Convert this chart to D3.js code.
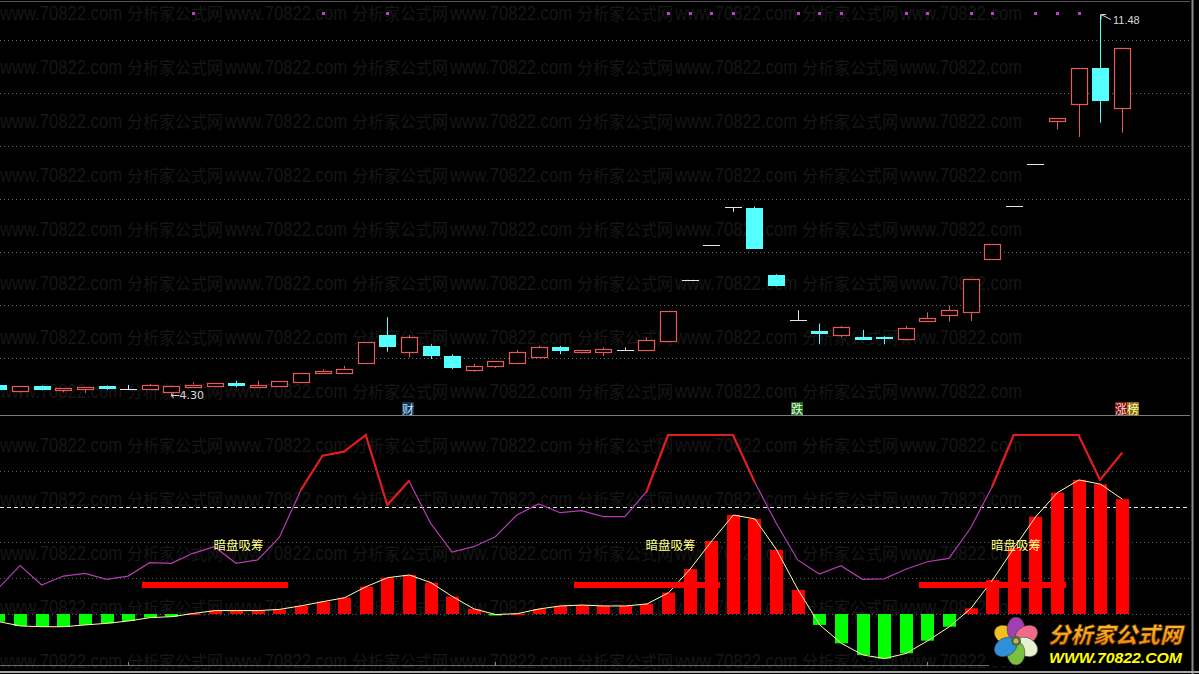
<!DOCTYPE html>
<html><head><meta charset="utf-8">
<script src="https://cdn.jsdelivr.net/npm/d3@7/dist/d3.min.js"></script>
<style>html,body{margin:0;padding:0;background:#000;overflow:hidden}</style>
</head><body><svg id="c" width="1199" height="674" xmlns="http://www.w3.org/2000/svg"></svg>
<script>
// ---------------- DATA ----------------
const opens  = [4.49,4.38,4.47,4.39,4.45,4.47,4.42,4.41,4.36,4.46,4.48,4.53,4.47,4.48,4.55,4.71,4.72,4.90,5.43,5.11,5.23,5.04,4.77,4.84,4.90,5.02,5.20,5.11,5.12,5.16,5.15,5.33,6.48,7.13,7.84,7.83,6.57,5.72,5.50,5.43,5.39,5.40,5.36,5.70,5.81,5.87,6.87,7.87,8.66,9.47,9.79,10.48,9.71];
const highs  = [4.50,4.47,4.48,4.43,4.46,4.48,4.49,4.51,4.47,4.54,4.53,4.57,4.57,4.57,4.71,4.79,4.85,5.30,5.77,5.43,5.26,5.07,4.89,4.94,5.15,5.23,5.23,5.15,5.20,5.20,5.38,5.89,6.48,7.13,7.84,7.86,6.58,5.90,5.65,5.60,5.53,5.41,5.61,5.86,5.99,6.50,7.15,7.87,8.66,9.53,10.48,11.48,10.84];
const lows   = [4.39,4.35,4.39,4.35,4.34,4.40,4.40,4.41,4.30,4.46,4.48,4.45,4.47,4.48,4.55,4.71,4.72,4.90,5.12,5.01,4.98,4.79,4.74,4.81,4.90,5.02,5.07,5.09,5.04,5.13,5.13,5.29,6.48,7.13,7.76,7.06,6.35,5.72,5.26,5.39,5.34,5.26,5.33,5.69,5.69,5.70,6.85,7.87,8.66,9.31,9.17,9.44,9.25];
const closes = [4.40,4.47,4.40,4.43,4.46,4.41,4.42,4.49,4.47,4.50,4.53,4.47,4.49,4.57,4.71,4.76,4.80,5.30,5.20,5.39,5.04,4.82,4.85,4.94,5.11,5.20,5.13,5.15,5.17,5.16,5.34,5.89,6.48,7.13,7.84,7.06,6.35,5.72,5.45,5.58,5.34,5.36,5.56,5.75,5.90,6.50,7.15,7.87,8.66,9.53,10.48,9.85,10.84];

const oscValues  = [14.5,27.0,16.2,21.2,22.7,19.4,21.2,28.7,28.3,33.9,37.6,28.3,30.2,42.8,69.3,88.4,90.7,100,60.9,74.3,50.8,34.6,37.6,43.2,55.3,61.5,56.6,57.7,54.4,54.4,68.3,100,100,100,100,73.9,50.8,30.2,22.3,27.0,19.4,19.6,25.0,29.2,31.1,47.9,71.1,100,100,100,100,74.9,89.8];
const histValues = [-4.3,-6.7,-7.1,-7.1,-6.1,-5.2,-3.9,-2.0,-1.5,0.3,1.9,1.9,1.9,2.6,4.6,6.9,9.1,15.3,20.3,21.8,17.5,9.7,2.8,-0.3,0.2,2.8,4.5,5.0,4.5,4.5,5.6,11.9,25.1,40.8,55.3,53.1,35.8,13.4,-6.1,-16.4,-22.9,-24.9,-22.0,-14.9,-7.1,3.2,19.0,37.0,54.4,67.8,74.9,72.5,64.2];

const dotIdx = [9,15,18,31,32,33,34,37,38,39,42,43,45,46,48,49,50];
const accumStart = [7,27,43];
const accumEnd   = [13,33,49];
const accumLabelIdx = [10,30,46];
const accumLevel = 16.2;
const accumLabelLevel = 39;
const accumText = "暗盘吸筹";
const oscRedThreshold = 60;

const eventIdx  = [19,37,52];
const eventText = ["财","跌","涨榜"];

const priceTicks = [5,6,7,8,9,10,11];
const oscDotTicks = [0,20,40,80];
const oscDashTick = 60;

const wmLatin = "www.70822.com";
const wmCJK = "分析家公式网";
const logoTitle = "分析家公式网";
const logoUrl = "WWW.70822.COM";
const axisTickIdx = [6,23,43];

// ---------------- SCALES ----------------
const W = 1199, H = 674;
const svg = d3.select("#c");
const N = closes.length;
const x = d3.scaleLinear().domain([-0.5, 52.5]).range([-12.3, 1132.5]);
const yP = d3.scaleLinear().domain([5, 11]).range([358, 40]);
const yI = d3.scaleLinear().domain([0, 100]).range([614, 435]);
const plotRight = 1190;

svg.append("rect").attr("width", W).attr("height", H).attr("fill", "#000");

// ---------------- WATERMARK ----------------
const wm = svg.append("g").attr("fill", "#171717");
for (let r = 0; r < 13; r++) {
  const cy = 13 + 54 * r;
  for (let k = 0; k < 5; k++) {
    wm.append("text").attr("x", k * 225).attr("y", cy + 7)
      .attr("font-family", "Liberation Sans, Arial, sans-serif").attr("font-size", 20)
      .attr("textLength", 122).attr("lengthAdjust", "spacingAndGlyphs").text(wmLatin);
    if (k < 4) wm.append("text").attr("x", k * 225 + 127).attr("y", cy + 7)
      .attr("font-family", "Noto Sans CJK SC, sans-serif").attr("font-size", 17)
      .attr("textLength", 96).attr("lengthAdjust", "spacingAndGlyphs").text(wmCJK);
  }
}

// ---------------- FRAME ----------------
svg.append("line").attr("x1", 0).attr("x2", plotRight).attr("y1", 1.5).attr("y2", 1.5).attr("stroke", "#555");
svg.append("line").attr("x1", 0).attr("x2", plotRight).attr("y1", 415.5).attr("y2", 415.5).attr("stroke", "#7a7a7a");
svg.append("line").attr("x1", 0).attr("x2", plotRight).attr("y1", 665.5).attr("y2", 665.5).attr("stroke", "#6a6a6a");
svg.append("line").attr("x1", plotRight + 2.5).attr("x2", plotRight + 2.5).attr("y1", 0).attr("y2", H).attr("stroke", "#888").attr("stroke-width", 2);
svg.append("line").attr("x1", 0).attr("x2", W).attr("y1", 672).attr("y2", 672).attr("stroke", "#aaa").attr("stroke-width", 2);
svg.selectAll(".atick").data(axisTickIdx).enter().append("line")
  .attr("x1", d => Math.round(x(d)) + 0.5).attr("x2", d => Math.round(x(d)) + 0.5)
  .attr("y1", 662).attr("y2", 666).attr("stroke", "#888");

// ---------------- PRICE GRID ----------------
svg.selectAll(".pg").data(priceTicks).enter().append("line")
  .attr("x1", 0).attr("x2", plotRight)
  .attr("y1", d => Math.round(yP(d)) + 0.5).attr("y2", d => Math.round(yP(d)) + 0.5)
  .attr("stroke", "#6a6a6a").attr("stroke-dasharray", "1,3");

// ---------------- CANDLES ----------------
const UP = "#e85a5a", DOWN = "#54ffff", FLAT = "#e6e6e6";
const cg = svg.append("g");
d3.range(N).forEach(i => {
  const o = opens[i], c = closes[i], h = highs[i], l = lows[i];
  const cx = Math.round(x(i)) + 0.5;
  const left = Math.round(x(i)) - 8;
  const bodyTop = yP(Math.max(o, c)), bodyBot = yP(Math.min(o, c));
  if (o === c) {
    cg.append("line").attr("x1", cx).attr("x2", cx).attr("y1", yP(h)).attr("y2", yP(l)).attr("stroke", FLAT);
    const yy = Math.round(yP(c)) + 0.5;
    cg.append("line").attr("x1", left).attr("x2", left + 17).attr("y1", yy).attr("y2", yy).attr("stroke", FLAT);
  } else if (c > o) {
    cg.append("line").attr("x1", cx).attr("x2", cx).attr("y1", yP(h)).attr("y2", bodyTop).attr("stroke", UP);
    cg.append("line").attr("x1", cx).attr("x2", cx).attr("y1", bodyBot).attr("y2", yP(l)).attr("stroke", UP);
    const t = Math.round(bodyTop) + 0.5, b = Math.max(Math.round(bodyBot) + 0.5, t + 2);
    cg.append("rect").attr("x", left + 0.5).attr("y", t).attr("width", 16).attr("height", b - t)
      .attr("fill", "#000").attr("stroke", UP).attr("stroke-width", 1.2);
  } else {
    cg.append("line").attr("x1", cx).attr("x2", cx).attr("y1", yP(h)).attr("y2", yP(l)).attr("stroke", DOWN);
    const t = Math.round(bodyTop), b = Math.max(Math.round(bodyBot), t + 2);
    cg.append("rect").attr("x", left).attr("y", t).attr("width", 17).attr("height", b - t).attr("fill", DOWN);
  }
});

// high / low markers
const hi = d3.maxIndex(highs), lo = d3.minIndex(lows);
{
  const hx = Math.round(x(hi)) + 1, hy = yP(highs[hi]);
  svg.append("path").attr("d", `M${hx + 10},${hy + 5} L${hx},${hy} M${hx},${hy} h5 M${hx},${hy} v5`)
    .attr("stroke", "#d8d8d8").attr("fill", "none");
  svg.append("text").attr("x", hx + 12).attr("y", hy + 5).attr("dominant-baseline", "central")
    .attr("font-family", "Liberation Sans, Arial, sans-serif").attr("font-size", 11).attr("fill", "#d8d8d8")
    .text(highs[hi].toFixed(2));
  const lx = x(lo), ly = yP(lows[lo]);
  svg.append("text").attr("x", lx - 1).attr("y", ly).attr("dominant-baseline", "central")
    .attr("font-family", "DejaVu Sans, sans-serif").attr("font-size", 11).attr("fill", "#d8d8d8")
    .text("←" + lows[lo].toFixed(2));
}

// purple signal dots
svg.selectAll(".dot").data(dotIdx).enter().append("rect")
  .attr("x", d => Math.round(x(d)) - 1).attr("y", 12).attr("width", 3).attr("height", 3).attr("fill", "#c03cd0");

// event labels
const evColors = [[{bg:"#0f2f4f", fg:"#bfe4ff"}], [{bg:"#1c6e1c", fg:"#e8ffe8"}], [{bg:"#7a1212", fg:"#ffd8d8"}, {bg:"#8a6a1a", fg:"#ffffa0"}]];
eventIdx.forEach((ei, k) => {
  const chars = Array.from(eventText[k]);
  const x0 = Math.round(x(ei)) - 7;
  chars.forEach((ch, j) => {
    const col = evColors[k][Math.min(j, evColors[k].length - 1)];
    svg.append("rect").attr("x", x0 + j * 12).attr("y", 402).attr("width", 12).attr("height", 13).attr("fill", col.bg);
    svg.append("text").attr("x", x0 + j * 12 + 6).attr("y", 408.5).attr("text-anchor", "middle")
      .attr("dominant-baseline", "central").attr("font-family", "Noto Sans CJK SC, sans-serif")
      .attr("font-size", 12).attr("fill", col.fg).text(ch);
  });
});

// ---------------- INDICATOR ----------------
svg.selectAll(".og").data(oscDotTicks).enter().append("line")
  .attr("x1", 0).attr("x2", plotRight)
  .attr("y1", d => Math.round(yI(d)) + 0.5).attr("y2", d => Math.round(yI(d)) + 0.5)
  .attr("stroke", "#5a5a5a").attr("stroke-dasharray", "1,3");
svg.append("line").attr("x1", 0).attr("x2", plotRight)
  .attr("y1", Math.round(yI(oscDashTick)) + 0.5).attr("y2", Math.round(yI(oscDashTick)) + 0.5)
  .attr("stroke", "#e8e8e8").attr("stroke-dasharray", "4,3");

// histogram
svg.selectAll(".hb").data(histValues).enter().append("rect")
  .attr("x", (d, i) => Math.round(x(i)) - 6).attr("width", 13)
  .attr("y", d => Math.min(yI(d), yI(0)))
  .attr("height", d => Math.max(1.5, Math.abs(yI(d) - yI(0))))
  .attr("fill", d => d >= 0 ? "#ff0000" : "#00ff00");
svg.append("path").datum(histValues)
  .attr("d", d3.line().x((d, i) => x(i) + 0.5).y(d => yI(d)))
  .attr("fill", "none").attr("stroke", "#ffffb0").attr("stroke-width", 1);

// accumulation bars
accumStart.forEach((s, k) => {
  const e = accumEnd[k];
  const x0 = Math.round(x(s)) - 8, x1 = Math.round(x(e)) + 9;
  svg.append("rect").attr("x", x0).attr("width", x1 - x0)
    .attr("y", yI(accumLevel) - 3).attr("height", 6).attr("fill", "#ff0000");
});

// oscillator line
svg.append("path").datum(oscValues)
  .attr("d", d3.line().x((d, i) => x(i)).y(d => yI(d)))
  .attr("fill", "none").attr("stroke", "#b43cb4").attr("stroke-width", 1.2);
for (let i = 1; i < N; i++) {
  if (oscValues[i - 1] > oscRedThreshold && oscValues[i] > oscRedThreshold) {
    svg.append("line").attr("x1", x(i - 1)).attr("y1", yI(oscValues[i - 1]))
      .attr("x2", x(i)).attr("y2", yI(oscValues[i]))
      .attr("stroke", "#e01c1c").attr("stroke-width", 2.2).attr("stroke-linecap", "round");
  }
}

// labels
accumLabelIdx.forEach(li => {
  svg.append("text").attr("x", x(li) - 1).attr("y", yI(accumLabelLevel))
    .attr("dominant-baseline", "central").attr("font-family", "Noto Sans CJK SC, sans-serif")
    .attr("font-size", 12.5).attr("fill", "#ffff88").text(accumText);
});

// ---------------- LOGO ----------------
const lg = svg.append("g");
lg.append("rect").attr("x", 989).attr("y", 615).attr("width", 202).attr("height", 51).attr("fill", "#000");
const defs = svg.append("defs");
const grad = defs.append("linearGradient").attr("id", "lgrad").attr("x1", 0).attr("x2", 0).attr("y1", 0).attr("y2", 1);
grad.append("stop").attr("offset", "0%").attr("stop-color", "#ffd23a");
grad.append("stop").attr("offset", "100%").attr("stop-color", "#f07a00");
const petals = ["#f4c020", "#a040b0", "#f06a8a", "#e8f0d0", "#7cc040", "#2f8fd8"];
const fcx = 1016, fcy = 641;
petals.forEach((col, k) => {
  const a = -60 + k * 60;
  lg.append("ellipse").attr("cx", 0).attr("cy", -12).attr("rx", 9).attr("ry", 12)
    .attr("fill", col).attr("stroke", "#333").attr("stroke-width", 0.5)
    .attr("transform", `translate(${fcx},${fcy}) rotate(${a})`);
});
lg.append("circle").attr("cx", fcx).attr("cy", fcy).attr("r", 5).attr("fill", "#4a6a3a");
lg.append("circle").attr("cx", fcx).attr("cy", fcy).attr("r", 2.5).attr("fill", "#c8b060");
lg.append("text").attr("x", 1048).attr("y", 643).attr("font-family", "Noto Sans CJK SC, sans-serif")
  .attr("font-weight", 900).attr("font-size", 22).attr("font-style", "italic")
  .attr("textLength", 134).attr("lengthAdjust", "spacingAndGlyphs")
  .attr("fill", "url(#lgrad)").attr("stroke", "#5a2a00").attr("stroke-width", 0.6).text(logoTitle);
lg.append("text").attr("x", 1049).attr("y", 663).attr("font-family", "Liberation Sans, Arial, sans-serif")
  .attr("font-weight", "bold").attr("font-style", "italic").attr("font-size", 15)
  .attr("textLength", 133).attr("lengthAdjust", "spacingAndGlyphs")
  .attr("fill", "#ffff00").text(logoUrl);
</script>
</body></html>
